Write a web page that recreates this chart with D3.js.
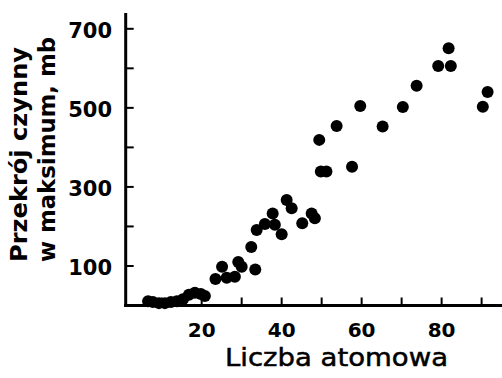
<!DOCTYPE html>
<html>
<head>
<meta charset="utf-8">
<script src="https://cdn.jsdelivr.net/npm/d3@7"></script>
<style>
  body { margin: 0; background: #fff; }
  svg { display: block; }
  text { font-family: "DejaVu Sans", sans-serif; fill: #000; }
</style>
</head>
<body>
<svg width="502" height="378"></svg>
<script>
// atomic number (Z) and cross-section at maximum (mb)
const atomicNumber = [6.6, 7.8, 9.3, 10.8, 12.3, 13.8, 15.3, 16.8, 18.3, 19.8, 20.8,
    23.45, 25.1, 26.25, 28.3, 29.15, 30, 32.4, 33.4, 33.75, 35.8, 37.75, 38.3, 40,
    41.25, 42.5, 45.15, 47.5, 48.3, 49.4, 49.8, 51.2, 53.75, 57.6, 59.65, 65.25,
    70.3, 73.75, 79.15, 81.75, 82.3, 90.3, 91.5]
const crossSection = [11, 9, 6, 6, 9, 11, 16, 27, 32, 29, 24,
    67, 98, 70, 73, 110, 98, 148, 91, 191, 206, 233, 204, 180,
    267, 246, 208, 233, 221, 419, 339, 339, 454, 351, 505, 453,
    502, 556, 606, 651, 606, 503, 540]

const xTicks = [10, 20, 30, 40, 50, 60, 70, 80, 90]
const xTickLabels = [20, 40, 60, 80]
const yTicks = [100, 200, 300, 400, 500, 600, 700]
const yTickLabels = [100, 300, 500, 700]

const svg = d3.select("svg")

// 4 px per unit of Z, 0.395 px per mb
const x = d3.scaleLinear().domain([1, 95.1]).range([125.7, 502])
const y = d3.scaleLinear().domain([0, 740]).range([305.5, 13])

const points = atomicNumber.map((z, i) => ({z: z, v: crossSection[i]}))

// axis lines
svg.append("line")
    .attr("x1", x(1)).attr("x2", x(1))
    .attr("y1", y(740)).attr("y2", y(0) + 1.5)
    .attr("stroke", "#000").attr("stroke-width", 3)
svg.append("line")
    .attr("x1", x(1) - 1.5).attr("x2", 502)
    .attr("y1", y(0)).attr("y2", y(0))
    .attr("stroke", "#000").attr("stroke-width", 3)

// ticks pointing inwards
svg.append("g").selectAll("line")
    .data(yTicks)
    .join("line")
    .attr("x1", x(1)).attr("x2", x(1) + 8)
    .attr("y1", d => y(d)).attr("y2", d => y(d))
    .attr("stroke", "#000").attr("stroke-width", 2)

svg.append("g").selectAll("line")
    .data(xTicks)
    .join("line")
    .attr("x1", d => x(d)).attr("x2", d => x(d))
    .attr("y1", y(0)).attr("y2", y(0) - 8)
    .attr("stroke", "#000").attr("stroke-width", 2)

// tick labels
svg.append("g").selectAll("text")
    .data(yTickLabels)
    .join("text")
    .attr("x", 112)
    .attr("y", d => y(d) + 2)
    .attr("text-anchor", "end")
    .attr("dominant-baseline", "central")
    .attr("font-size", 21)
    .attr("font-weight", "bold")
    .text(d => d)

svg.append("g").selectAll("text")
    .data(xTickLabels)
    .join("text")
    .attr("x", d => x(d))
    .attr("y", 337)
    .attr("text-anchor", "middle")
    .attr("font-size", 20)
    .attr("font-weight", "bold")
    .text(d => d)

// axis titles
svg.append("text")
    .attr("x", 336.5).attr("y", 366)
    .attr("text-anchor", "middle")
    .attr("font-size", 24)
    .attr("stroke", "#000").attr("stroke-width", 0.5)
    .attr("textLength", 223).attr("lengthAdjust", "spacingAndGlyphs")
    .text("Liczba atomowa")

const yTitle = svg.append("g").attr("transform", "translate(0,262) rotate(-90)")
yTitle.append("text")
    .attr("x", 0).attr("y", 27)
    .attr("font-size", 23).attr("font-weight", "bold")
    .attr("textLength", 215).attr("lengthAdjust", "spacingAndGlyphs")
    .text("Przekrój czynny")
yTitle.append("text")
    .attr("x", 0).attr("y", 55)
    .attr("font-size", 23).attr("font-weight", "bold")
    .attr("textLength", 225).attr("lengthAdjust", "spacingAndGlyphs")
    .text("w maksimum, mb")

// data points
svg.append("g").selectAll("circle")
    .data(points)
    .join("circle")
    .attr("cx", d => x(d.z))
    .attr("cy", d => y(d.v))
    .attr("r", 6)
    .attr("fill", "#000")
</script>
</body>
</html>
